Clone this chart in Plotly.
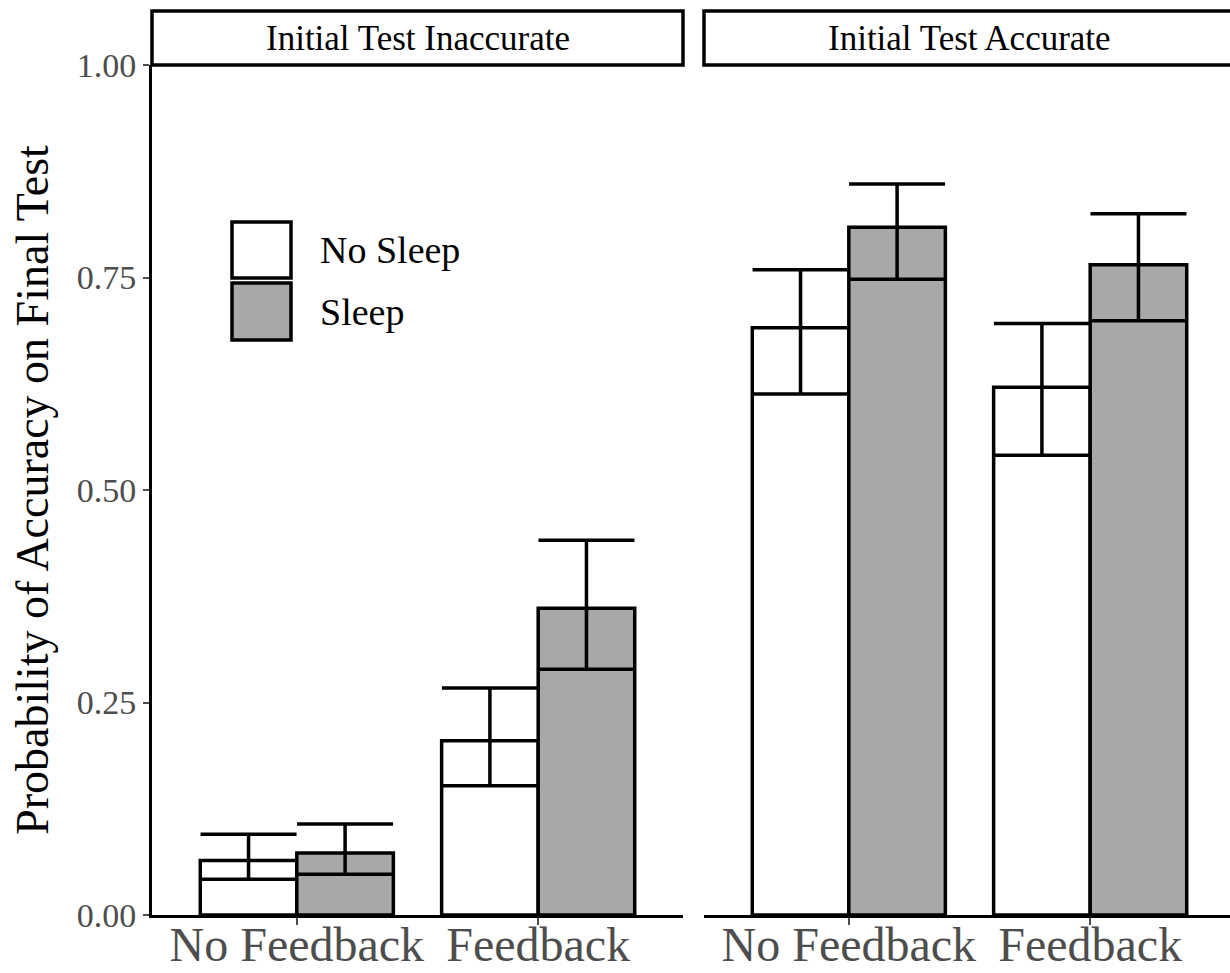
import plotly.graph_objects as go

# ---- data -------------------------------------------------------------
feedback = ["No Feedback", "Feedback"]
panels = ["Initial Test Inaccurate", "Initial Test Accurate"]

# mean probability of a correct final-test answer, with CI bounds
inacc_nosleep = [0.064, 0.205]
inacc_nosleep_lo = [0.042, 0.152]
inacc_nosleep_hi = [0.095, 0.267]

inacc_sleep = [0.073, 0.361]
inacc_sleep_lo = [0.048, 0.289]
inacc_sleep_hi = [0.107, 0.441]

acc_nosleep = [0.691, 0.621]
acc_nosleep_lo = [0.613, 0.541]
acc_nosleep_hi = [0.759, 0.696]

acc_sleep = [0.809, 0.765]
acc_sleep_lo = [0.748, 0.699]
acc_sleep_hi = [0.860, 0.825]

y_ticks = [0, 0.25, 0.5, 0.75, 1.0]
y_tick_text = ["0.00", "0.25", "0.50", "0.75", "1.00"]

# ---- style ------------------------------------------------------------
FONT = "Liberation Serif"
GREY_TXT = "#4d4d4d"
FILL = {"No Sleep": "white", "Sleep": "#a8a8a8"}
LW = 3.5

fig = go.Figure()


def add_bars(name, means, lo, hi, xa, ya):
    fig.add_trace(go.Bar(
        x=feedback, y=means, name=name,
        xaxis=xa, yaxis=ya, showlegend=False,
        marker=dict(color=FILL[name], line=dict(color="black", width=LW)),
        error_y=dict(
            type="data", symmetric=False,
            array=[h - m for h, m in zip(hi, means)],
            arrayminus=[m - l for m, l in zip(means, lo)],
            color="black", thickness=LW, width=48,
        ),
    ))


add_bars("No Sleep", inacc_nosleep, inacc_nosleep_lo, inacc_nosleep_hi, "x", "y")
add_bars("Sleep", inacc_sleep, inacc_sleep_lo, inacc_sleep_hi, "x", "y")
add_bars("No Sleep", acc_nosleep, acc_nosleep_lo, acc_nosleep_hi, "x2", "y2")
add_bars("Sleep", acc_sleep, acc_sleep_lo, acc_sleep_hi, "x2", "y2")

W, H = 1230, 973
ML, MT, MB = 152, 65, 58
plot_w = W - ML
plot_h = H - MT - MB

left_dom = [0, (683 - ML) / plot_w]
right_dom = [(704 - ML) / plot_w, 1]
unit = (683 - ML) / 2.2          # px per category unit
right_max = -0.6 + (W - 704) / unit

xcommon = dict(
    type="category", showline=True, linecolor="black", linewidth=3,
    ticks="outside", ticklen=7, tickwidth=2, tickcolor=GREY_TXT,
    ticklabelstandoff=-22,
    tickfont=dict(family=FONT, size=48, color=GREY_TXT),
    showgrid=False, zeroline=False, fixedrange=True,
)

fig.update_layout(
    width=W, height=H,
    margin=dict(l=ML, r=0, t=MT, b=MB, autoexpand=False),
    paper_bgcolor="white", plot_bgcolor="white",
    barmode="group", bargap=0.2, bargroupgap=0,
    xaxis=dict(domain=left_dom, range=[-0.6, 1.6], anchor="y", **xcommon),
    xaxis2=dict(domain=right_dom, range=[-0.6, right_max], anchor="y2", **xcommon),
    yaxis=dict(
        range=[0, 1], anchor="x", tickvals=y_ticks, ticktext=y_tick_text,
        showline=True, linecolor="black", linewidth=3,
        ticks="outside", ticklen=6, tickwidth=2, tickcolor=GREY_TXT,
        tickfont=dict(family=FONT, size=34, color=GREY_TXT),
        showgrid=False, zeroline=False, fixedrange=True,
        title=dict(text="Probability of Accuracy on Final Test",
                   font=dict(family=FONT, size=46, color="black"),
                   standoff=14),
    ),
    yaxis2=dict(
        range=[0, 1], anchor="x2", matches="y", tickvals=y_ticks,
        showticklabels=False, ticks="", showline=False,
        showgrid=False, zeroline=False, fixedrange=True,
    ),
)

# ---- facet strips -----------------------------------------------------
strip_top = 1 + (MT - 11) / plot_h
for xr, label, x1 in (("x", panels[0], 1), ("x2", panels[1], 1.05)):
    fig.add_shape(type="rect", xref=f"{xr} domain", yref="paper",
                  x0=0, x1=x1, y0=1, y1=strip_top,
                  line=dict(color="black", width=3.5), fillcolor="white",
                  layer="above")
    fig.add_annotation(xref=xr, yref="paper", x=0.5, y=(1 + strip_top) / 2,
                       text=label, showarrow=False,
                       font=dict(family=FONT, size=35, color="black"),
                       xanchor="center", yanchor="middle")

# ---- legend (inside the left panel) -----------------------------------
def px_x(px):
    return (px - ML) / plot_w


def px_y(py):
    return (H - MB - py) / plot_h


legend_items = [("No Sleep", 222, 278), ("Sleep", 283, 340)]
for name, top, bottom in legend_items:
    fig.add_shape(type="rect", xref="paper", yref="paper",
                  x0=px_x(232), x1=px_x(291), y0=px_y(bottom), y1=px_y(top),
                  line=dict(color="black", width=3.5), fillcolor=FILL[name])
    fig.add_annotation(xref="paper", yref="paper",
                       x=px_x(318), y=px_y((top + bottom) / 2),
                       text=name, showarrow=False, xanchor="left",
                       yanchor="middle",
                       font=dict(family=FONT, size=38, color="black"))

fig.write_html("out.html")
